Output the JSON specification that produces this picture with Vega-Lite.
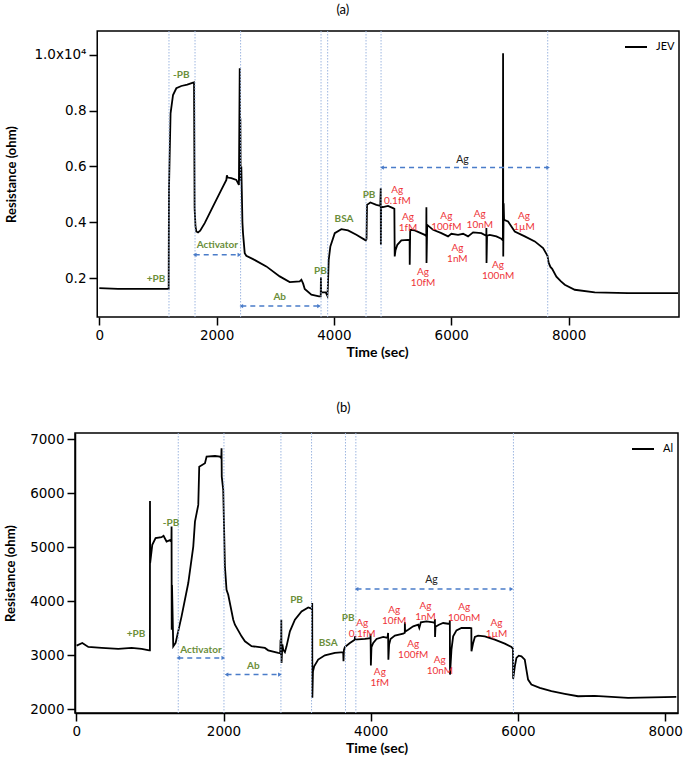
{
 "$schema": "https://vega.github.io/schema/vega-lite/v6.json",
 "padding": {"left": 3, "top": 4, "right": 2, "bottom": 2},
 "datasets": {
  "jev": [
   {"t":0,"r":1640},{"t":320,"r":1615},{"t":1183,"r":1615},{"t":1188,"r":5200},{"t":1215,"r":7900},{"t":1257,"r":8558},{"t":1313,"r":8798},{"t":1398,"r":8880},{"t":1500,"r":8930},{"t":1598,"r":9002},{"t":1615,"r":9010},{"t":1618,"r":7785},{"t":1625,"r":4500},{"t":1640,"r":3849},{"t":1654,"r":3670},{"t":1683,"r":3635},{"t":1720,"r":3700},{"t":1797,"r":3968},{"t":1939,"r":4565},{"t":2080,"r":5159},{"t":2166,"r":5517},{"t":2175,"r":5680},{"t":2190,"r":5600},{"t":2251,"r":5578},{"t":2336,"r":5517},{"t":2380,"r":5338},{"t":2394,"r":9513},{"t":2400,"r":5996},{"t":2405,"r":7725},{"t":2410,"r":5500},{"t":2421,"r":5996},{"t":2440,"r":4000},{"t":2450,"r":3610},{"t":2479,"r":2894},{"t":2506,"r":2800},{"t":2621,"r":2679},{"t":2847,"r":2418},{"t":3076,"r":2060},{"t":3246,"r":1857},{"t":3417,"r":1881},{"t":3445,"r":1940},{"t":3475,"r":1800},{"t":3502,"r":1606},{"t":3615,"r":1402},{"t":3746,"r":1345},{"t":3775,"r":1345},{"t":3778,"r":2025},{"t":3782,"r":1488},{"t":3860,"r":1488},{"t":3888,"r":1367},{"t":3895,"r":1600},{"t":3911,"r":2655},{"t":3939,"r":3134},{"t":4014,"r":3610},{"t":4126,"r":3753},{"t":4240,"r":3706},{"t":4382,"r":3549},{"t":4542,"r":3349},{"t":4555,"r":3400},{"t":4564,"r":4622},{"t":4621,"r":4708},{"t":4723,"r":4622},{"t":4790,"r":4587},{"t":4798,"r":5220},{"t":4800,"r":3191},{"t":4805,"r":4560},{"t":4837,"r":4540},{"t":4922,"r":4587},{"t":5007,"r":4504},{"t":5030,"r":4480},{"t":5036,"r":2776},{"t":5050,"r":3000},{"t":5081,"r":3191},{"t":5149,"r":3349},{"t":5263,"r":3370},{"t":5290,"r":3360},{"t":5292,"r":2476},{"t":5300,"r":3728},{"t":5377,"r":3706},{"t":5548,"r":3549},{"t":5574,"r":3500},{"t":5576,"r":4540},{"t":5578,"r":2536},{"t":5590,"r":3907},{"t":5690,"r":3728},{"t":5831,"r":3610},{"t":5945,"r":3492},{"t":6002,"r":3585},{"t":6116,"r":3549},{"t":6201,"r":3585},{"t":6286,"r":3492},{"t":6372,"r":3635},{"t":6513,"r":3610},{"t":6597,"r":3514},{"t":6599,"r":3789},{"t":6601,"r":2536},{"t":6610,"r":3520},{"t":6656,"r":3549},{"t":6769,"r":3492},{"t":6854,"r":3406},{"t":6880,"r":3350},{"t":6883,"r":10050},{"t":6886,"r":2776},{"t":6893,"r":4683},{"t":6900,"r":4086},{"t":6968,"r":4029},{"t":7082,"r":3670},{"t":7253,"r":3492},{"t":7424,"r":3313},{"t":7565,"r":3073},{"t":7640,"r":2800},{"t":7660,"r":2550},{"t":7690,"r":2400},{"t":7720,"r":2330},{"t":7792,"r":2050},{"t":7870,"r":1880},{"t":7935,"r":1760},{"t":8105,"r":1581},{"t":8446,"r":1488},{"t":9014,"r":1463},{"t":9866,"r":1463}
  ],
  "al": [
   {"t":4,"r":3179},{"t":81,"r":3229},{"t":163,"r":3155},{"t":344,"r":3137},{"t":570,"r":3118},{"t":751,"r":3137},{"t":887,"r":3118},{"t":991,"r":3092},{"t":1000,"r":3092},{"t":1001,"r":5859},{"t":1003,"r":4707},{"t":1032,"r":5046},{"t":1077,"r":5170},{"t":1158,"r":5188},{"t":1185,"r":5213},{"t":1226,"r":5107},{"t":1272,"r":5133},{"t":1292,"r":5100},{"t":1294,"r":5384},{"t":1296,"r":3475},{"t":1300,"r":4300},{"t":1317,"r":3166},{"t":1349,"r":3229},{"t":1430,"r":3721},{"t":1521,"r":4338},{"t":1589,"r":5014},{"t":1612,"r":5476},{"t":1657,"r":5785},{"t":1670,"r":6493},{"t":1748,"r":6556},{"t":1770,"r":6678},{"t":1884,"r":6690},{"t":1951,"r":6678},{"t":1970,"r":6650},{"t":1973,"r":6833},{"t":1976,"r":6308},{"t":1996,"r":6062},{"t":2019,"r":4645},{"t":2041,"r":4214},{"t":2064,"r":4120},{"t":2132,"r":3660},{"t":2155,"r":3567},{"t":2245,"r":3351},{"t":2291,"r":3259},{"t":2381,"r":3170},{"t":2562,"r":3137},{"t":2607,"r":3092},{"t":2743,"r":3044},{"t":2770,"r":3040},{"t":2775,"r":3290},{"t":2780,"r":3000},{"t":2785,"r":3660},{"t":2788,"r":2859},{"t":2800,"r":3200},{"t":2811,"r":3105},{"t":2834,"r":3059},{"t":2856,"r":3166},{"t":2902,"r":3444},{"t":2970,"r":3660},{"t":3060,"r":3813},{"t":3151,"r":3887},{"t":3187,"r":3870},{"t":3203,"r":3850},{"t":3205,"r":3968},{"t":3207,"r":2213},{"t":3215,"r":2700},{"t":3232,"r":2797},{"t":3286,"r":2921},{"t":3377,"r":3000},{"t":3513,"r":3044},{"t":3626,"r":3059},{"t":3630,"r":2889},{"t":3636,"r":3100},{"t":3649,"r":3155},{"t":3717,"r":3229},{"t":3783,"r":3290},{"t":3786,"r":3350},{"t":3790,"r":3290},{"t":3921,"r":3303},{"t":3995,"r":3318},{"t":3998,"r":3400},{"t":4002,"r":2810},{"t":4010,"r":3150},{"t":4034,"r":3229},{"t":4079,"r":3303},{"t":4170,"r":3340},{"t":4228,"r":3321},{"t":4236,"r":3414},{"t":4240,"r":2920},{"t":4250,"r":3200},{"t":4269,"r":3303},{"t":4328,"r":3364},{"t":4441,"r":3401},{"t":4463,"r":3420},{"t":4464,"r":3610},{"t":4467,"r":3440},{"t":4509,"r":3475},{"t":4577,"r":3536},{"t":4645,"r":3567},{"t":4660,"r":3506},{"t":4681,"r":3610},{"t":4758,"r":3629},{"t":4849,"r":3610},{"t":4870,"r":3600},{"t":4872,"r":3672},{"t":4874,"r":3340},{"t":4880,"r":3530},{"t":4926,"r":3567},{"t":4984,"r":3598},{"t":5052,"r":3585},{"t":5073,"r":3590},{"t":5075,"r":3647},{"t":5077,"r":2643},{"t":5097,"r":3105},{"t":5120,"r":3351},{"t":5165,"r":3462},{"t":5233,"r":3506},{"t":5347,"r":3506},{"t":5367,"r":3500},{"t":5369,"r":3074},{"t":5392,"r":3229},{"t":5415,"r":3340},{"t":5459,"r":3364},{"t":5550,"r":3351},{"t":5686,"r":3290},{"t":5822,"r":3216},{"t":5912,"r":3155},{"t":5933,"r":3120},{"t":5935,"r":2564},{"t":5958,"r":2797},{"t":5980,"r":2952},{"t":6012,"r":2994},{"t":6048,"r":2982},{"t":6093,"r":2921},{"t":6115,"r":2736},{"t":6138,"r":2551},{"t":6183,"r":2459},{"t":6297,"r":2398},{"t":6455,"r":2335},{"t":6636,"r":2287},{"t":6817,"r":2242},{"t":7044,"r":2250},{"t":7496,"r":2213},{"t":8152,"r":2231}
  ],
  "vlines_a": [{"t":1188},{"t":1632},{"t":2409},{"t":3780},{"t":3893},{"t":4547},{"t":4803},{"t":7644}],
  "vlines_b": [{"t":1385},{"t":2006},{"t":2780},{"t":3196},{"t":3657},{"t":3798},{"t":5939}],
  "arrows_a": [{"t":1627,"t2":2388,"r":2833},{"t":2421,"t2":3746,"r":998},{"t":4820,"t2":7650,"r":5960}],
  "arrows_b": [{"t":1385,"t2":1997,"r":2952},{"t":2041,"t2":2766,"r":2643},{"t":3807,"t2":5912,"r":4227}],
  "labels_a": [
   {"kind":"step","label":"+PB","t":967,"r":1965},
   {"kind":"step","label":"-PB","t":1398,"r":9274},
   {"kind":"step","label":"Activator","t":2012,"r":3191},
   {"kind":"step","label":"Ab","t":3076,"r":1309},
   {"kind":"step","label":"PB","t":3768,"r":2240},
   {"kind":"step","label":"BSA","t":4172,"r":4111},
   {"kind":"step","label":"PB","t":4598,"r":4959},
   {"kind":"span","label":"Ag","t":6190,"r":6240},
   {"kind":"conc","label":"Ag\n0.1fM","t":5080,"r":5138},
   {"kind":"conc","label":"Ag\n1fM","t":5263,"r":4193},
   {"kind":"conc","label":"Ag\n10fM","t":5519,"r":2222},
   {"kind":"conc","label":"Ag\n100fM","t":5916,"r":4236},
   {"kind":"conc","label":"Ag\n1nM","t":6104,"r":3080},
   {"kind":"conc","label":"Ag\n10nM","t":6486,"r":4297},
   {"kind":"conc","label":"Ag\n100nM","t":6798,"r":2454},
   {"kind":"conc","label":"Ag\n1µM","t":7241,"r":4225}
  ],
  "labels_b": [
   {"kind":"step","label":"+PB","t":811,"r":3395},
   {"kind":"step","label":"-PB","t":1286,"r":5458},
   {"kind":"step","label":"Activator","t":1693,"r":3105},
   {"kind":"step","label":"Ab","t":2404,"r":2797},
   {"kind":"step","label":"PB","t":2992,"r":4016},
   {"kind":"step","label":"BSA","t":3422,"r":3229},
   {"kind":"step","label":"PB","t":3694,"r":3691},
   {"kind":"span","label":"Ag","t":4825,"r":4399},
   {"kind":"conc","label":"Ag\n0.1fM","t":3884,"r":3591},
   {"kind":"conc","label":"Ag\n1fM","t":4124,"r":2699},
   {"kind":"conc","label":"Ag\n10fM","t":4319,"r":3832},
   {"kind":"conc","label":"Ag\n100fM","t":4577,"r":3203},
   {"kind":"conc","label":"Ag\n1nM","t":4744,"r":3906},
   {"kind":"conc","label":"Ag\n10nM","t":4939,"r":2915},
   {"kind":"conc","label":"Ag\n100nM","t":5269,"r":3896},
   {"kind":"conc","label":"Ag\n1µM","t":5708,"r":3601}
  ]
 },
 "columns": 1,
 "spacing": 41,
 "resolve": {"scale": {"x": "independent", "y": "independent", "color": "independent"}, "legend": {"color": "independent"}},
 "concat": [
  {
   "width": 604, "height": 286,
   "view": {"stroke": null},
   "title": {"text": "(a)", "frame": "bounds", "anchor": "middle", "offset": 13},
   "layer": [
    {"data": {"name": "jev"}, "transform": [{"calculate": "'JEV'", "as": "series"}],
     "mark": {"type": "line", "strokeWidth": 1.8, "clip": true},
     "encoding": {
      "x": {"field": "t", "type": "quantitative", "scale": {"domain": [-414, 9882], "nice": false, "zero": false}, "axis": {"title": "Time (sec)", "values": [0, 2000, 4000, 6000, 8000], "format": "d", "domain": false}},
      "y": {"field": "r", "type": "quantitative", "scale": {"domain": [605, 10850], "nice": false, "zero": false}, "axis": {"title": "Resistance (ohm)", "domain": false, "offset": -22, "titlePadding": 15, "values": [2000, 4000, 6000, 8000, 10000], "labelExpr": "datum.value == 10000 ? '1.0x10⁴' : format(datum.value / 10000, '.1f')"}},
      "color": {"field": "series", "type": "nominal", "scale": {"domain": ["JEV"], "range": ["#000000"]}, "legend": {"title": null, "orient": "top-right"}}
     }},
    {"data": {"values": [{}]}, "mark": {"type": "rect", "fillOpacity": 0, "stroke": "#000000", "strokeWidth": 1.5},
     "encoding": {"x": {"datum": -35, "type": "quantitative", "title": "Time (sec)"}, "x2": {"datum": 9882}, "y": {"datum": 605, "type": "quantitative", "title": "Resistance (ohm)"}, "y2": {"datum": 10850}}},
    {"data": {"name": "vlines_a"}, "mark": {"type": "rule", "color": "#9db6e0", "strokeDash": [1.5, 1.5], "strokeWidth": 1},
     "encoding": {"x": {"field": "t", "type": "quantitative", "title": "Time (sec)"}}},
    {"data": {"name": "arrows_a"}, "mark": {"type": "rule", "color": "#4a7cc9", "strokeDash": [5, 4], "strokeWidth": 1.5},
     "encoding": {"x": {"field": "t", "type": "quantitative", "title": "Time (sec)"}, "x2": {"field": "t2"}, "y": {"field": "r", "type": "quantitative", "title": "Resistance (ohm)"}}},
    {"data": {"name": "arrows_a"}, "mark": {"type": "point", "shape": "triangle-left", "filled": true, "color": "#4a7cc9", "size": 18, "opacity": 1},
     "encoding": {"x": {"field": "t", "type": "quantitative", "title": "Time (sec)"}, "y": {"field": "r", "type": "quantitative", "title": "Resistance (ohm)"}}},
    {"data": {"name": "arrows_a"}, "mark": {"type": "point", "shape": "triangle-right", "filled": true, "color": "#4a7cc9", "size": 18, "opacity": 1},
     "encoding": {"x": {"field": "t2", "type": "quantitative", "title": "Time (sec)"}, "y": {"field": "r", "type": "quantitative", "title": "Resistance (ohm)"}}},
    {"data": {"name": "labels_a"}, "transform": [{"filter": "datum.kind == 'step'"}],
     "mark": {"type": "text", "font": "Lato", "fontWeight": "bold", "fontSize": 10, "color": "#6b8e3a", "baseline": "middle"},
     "encoding": {"x": {"field": "t", "type": "quantitative", "title": "Time (sec)"}, "y": {"field": "r", "type": "quantitative", "title": "Resistance (ohm)"}, "text": {"field": "label"}}},
    {"data": {"name": "labels_a"}, "transform": [{"filter": "datum.kind == 'span'"}],
     "mark": {"type": "text", "font": "Lato", "fontSize": 10.5, "color": "#222222", "baseline": "middle"},
     "encoding": {"x": {"field": "t", "type": "quantitative", "title": "Time (sec)"}, "y": {"field": "r", "type": "quantitative", "title": "Resistance (ohm)"}, "text": {"field": "label"}}},
    {"data": {"name": "labels_a"}, "transform": [{"filter": "datum.kind == 'conc'"}],
     "mark": {"type": "text", "font": "Lato", "fontSize": 10, "color": "#ee3338", "baseline": "middle", "lineBreak": "\n", "lineHeight": 11},
     "encoding": {"x": {"field": "t", "type": "quantitative", "title": "Time (sec)"}, "y": {"field": "r", "type": "quantitative", "title": "Resistance (ohm)"}, "text": {"field": "label"}}}
   ]
  },
  {
   "width": 603, "height": 280,
   "title": {"text": "(b)", "frame": "bounds", "anchor": "middle", "offset": 17},
   "layer": [
    {"data": {"name": "al"}, "transform": [{"calculate": "'Al'", "as": "series"}],
     "mark": {"type": "line", "strokeWidth": 1.8, "clip": true},
     "encoding": {
      "x": {"field": "t", "type": "quantitative", "scale": {"domain": [-18, 8175], "nice": false, "zero": false}, "axis": {"title": "Time (sec)", "values": [0, 2000, 4000, 6000, 8000], "format": "d"}},
      "y": {"field": "r", "type": "quantitative", "scale": {"domain": [1932, 7116], "nice": false, "zero": false}, "axis": {"title": "Resistance (ohm)", "titlePadding": 12, "values": [2000, 3000, 4000, 5000, 6000, 7000], "format": "d"}},
      "color": {"field": "series", "type": "nominal", "scale": {"domain": ["Al"], "range": ["#000000"]}, "legend": {"title": null, "orient": "top-right"}}
     }},
    {"data": {"name": "vlines_b"}, "mark": {"type": "rule", "color": "#9db6e0", "strokeDash": [1.5, 1.5], "strokeWidth": 1},
     "encoding": {"x": {"field": "t", "type": "quantitative", "title": "Time (sec)"}}},
    {"data": {"name": "arrows_b"}, "mark": {"type": "rule", "color": "#4a7cc9", "strokeDash": [5, 4], "strokeWidth": 1.5},
     "encoding": {"x": {"field": "t", "type": "quantitative", "title": "Time (sec)"}, "x2": {"field": "t2"}, "y": {"field": "r", "type": "quantitative", "title": "Resistance (ohm)"}}},
    {"data": {"name": "arrows_b"}, "mark": {"type": "point", "shape": "triangle-left", "filled": true, "color": "#4a7cc9", "size": 18, "opacity": 1},
     "encoding": {"x": {"field": "t", "type": "quantitative", "title": "Time (sec)"}, "y": {"field": "r", "type": "quantitative", "title": "Resistance (ohm)"}}},
    {"data": {"name": "arrows_b"}, "mark": {"type": "point", "shape": "triangle-right", "filled": true, "color": "#4a7cc9", "size": 18, "opacity": 1},
     "encoding": {"x": {"field": "t2", "type": "quantitative", "title": "Time (sec)"}, "y": {"field": "r", "type": "quantitative", "title": "Resistance (ohm)"}}},
    {"data": {"name": "labels_b"}, "transform": [{"filter": "datum.kind == 'step'"}],
     "mark": {"type": "text", "font": "Lato", "fontWeight": "bold", "fontSize": 10, "color": "#6b8e3a", "baseline": "middle"},
     "encoding": {"x": {"field": "t", "type": "quantitative", "title": "Time (sec)"}, "y": {"field": "r", "type": "quantitative", "title": "Resistance (ohm)"}, "text": {"field": "label"}}},
    {"data": {"name": "labels_b"}, "transform": [{"filter": "datum.kind == 'span'"}],
     "mark": {"type": "text", "font": "Lato", "fontSize": 10.5, "color": "#222222", "baseline": "middle"},
     "encoding": {"x": {"field": "t", "type": "quantitative", "title": "Time (sec)"}, "y": {"field": "r", "type": "quantitative", "title": "Resistance (ohm)"}, "text": {"field": "label"}}},
    {"data": {"name": "labels_b"}, "transform": [{"filter": "datum.kind == 'conc'"}],
     "mark": {"type": "text", "font": "Lato", "fontSize": 10, "color": "#ee3338", "baseline": "middle", "lineBreak": "\n", "lineHeight": 11},
     "encoding": {"x": {"field": "t", "type": "quantitative", "title": "Time (sec)"}, "y": {"field": "r", "type": "quantitative", "title": "Resistance (ohm)"}, "text": {"field": "label"}}}
   ]
  }
 ],
 "config": {
  "background": "white",
  "view": {"stroke": "#000000", "strokeWidth": 1.5},
  "title": {"font": "Lato", "fontSize": 13, "fontWeight": "normal", "color": "#000000"},
  "axis": {"grid": false, "domainColor": "#000000", "domainWidth": 1.5, "tickColor": "#000000", "tickWidth": 1.5, "tickSize": 8, "labelColor": "#000000", "labelFont": "DejaVu Sans", "labelFontSize": 13.5, "labelPadding": 3, "titleFont": "Lato", "titleFontWeight": "bold", "titleColor": "#000000", "labelFlush": false},
  "axisX": {"titleFontSize": 14, "titlePadding": 4},
  "axisY": {"titleFontSize": 13},
  "legend": {"symbolType": "stroke", "symbolStrokeWidth": 2, "symbolSize": 484, "labelFont": "Lato", "labelFontSize": 11, "labelColor": "#000000", "offset": 4, "padding": 0, "labelOffset": 8}
 }
}
